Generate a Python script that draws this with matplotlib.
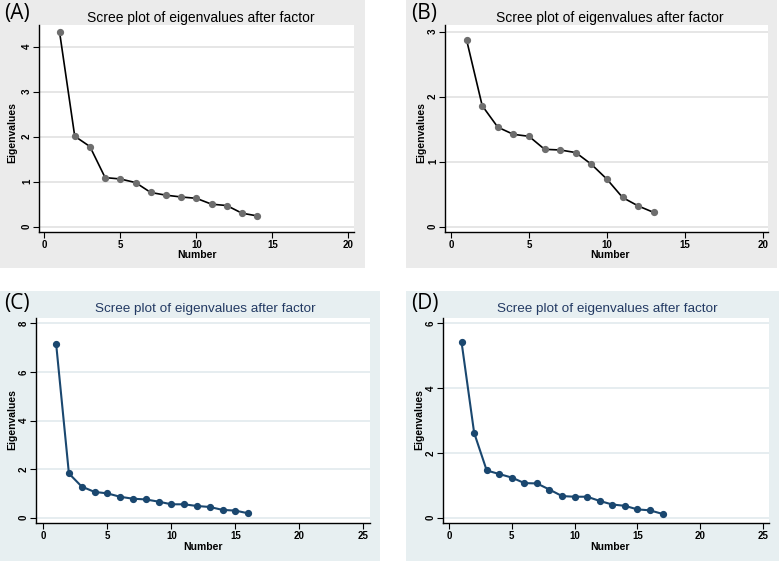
import matplotlib
matplotlib.use("Agg")
import matplotlib.pyplot as plt
from matplotlib.patches import Rectangle

# ---- data ----
eig_a = [4.33, 2.01, 1.78, 1.09, 1.06, 0.98, 0.76, 0.70, 0.66, 0.63, 0.50, 0.47, 0.30, 0.24]
eig_b = [2.87, 1.86, 1.53, 1.42, 1.39, 1.19, 1.18, 1.14, 0.96, 0.73, 0.45, 0.32, 0.22]
eig_c = [7.17, 1.82, 1.28, 1.06, 1.00, 0.86, 0.78, 0.75, 0.66, 0.55, 0.55, 0.48, 0.44, 0.32, 0.29, 0.18]
eig_d = [5.41, 2.62, 1.46, 1.35, 1.24, 1.07, 1.06, 0.87, 0.67, 0.65, 0.65, 0.52, 0.41, 0.37, 0.26, 0.23, 0.12]
panel_labels = ["(A)", "(B)", "(C)", "(D)"]
title_text = "Scree plot of eigenvalues after factor"
xlabel_text = "Number"
ylabel_text = "Eigenvalues"
xticks_ab = [0, 5, 10, 15, 20]
yticks_a = [0, 1, 2, 3, 4]
yticks_b = [0, 1, 2, 3]
xticks_cd = [0, 5, 10, 15, 20, 25]
yticks_c = [0, 2, 4, 6, 8]
yticks_d = [0, 2, 4, 6]

W, H = 779, 561
fig = plt.figure(figsize=(W / 100, H / 100), dpi=100)
fig.patch.set_facecolor("white")
plt.rcParams["font.family"] = ["Liberation Sans", "DejaVu Sans"]


def fx(px):
    return px / W


def fy(py):
    return 1 - py / H


def add_bg(x0, y0, x1, y1, color):
    fig.patches.append(Rectangle((fx(x0), fy(y1)), fx(x1) - fx(x0), fy(y0) - fy(y1),
                                 transform=fig.transFigure, facecolor=color,
                                 edgecolor="none", zorder=-10))


GRAY_BG = "#ebebeb"
BLUE_BG = "#e7eff1"
NAVY = "#1a476f"

panels = [
    dict(data=eig_a, bg=(0, 0, 365, 268), ax=(39, 25, 354, 232), xlim=(-0.35, 20.37), ylim=(-0.118, 4.48),
         xt=xticks_ab, yt=yticks_a, bgc=GRAY_BG, grid="#e2e2e2", line="black", mk="#6e6e6e",
         tc="black", title_xy=(201, 18), lab_xy=(4, 13.5), xl_xy=(197, 255), yl_xy=(12, 133), tfs=10),
    dict(data=eig_b, bg=(406, 0, 777, 268), ax=(445, 25, 768, 232), xlim=(-0.385, 20.32), ylim=(-0.08, 3.10),
         xt=xticks_ab, yt=yticks_b, bgc=GRAY_BG, grid="#e2e2e2", line="black", mk="#6e6e6e",
         tc="black", title_xy=(610, 18), lab_xy=(411, 13.5), xl_xy=(610, 255), yl_xy=(421, 133), tfs=10),
    dict(data=eig_c, bg=(0, 291, 380, 561), ax=(36, 318, 370, 523), xlim=(-0.57, 25.52), ylim=(-0.22, 8.22),
         xt=xticks_cd, yt=yticks_c, bgc=BLUE_BG, grid="#e1eaed", line=NAVY, mk=NAVY,
         tc="#233a63", title_xy=(205, 309), lab_xy=(4, 304), xl_xy=(203, 547), yl_xy=(12, 420), tfs=9.7),
    dict(data=eig_d, bg=(406, 291, 779, 561), ax=(443, 318, 769, 523), xlim=(-0.48, 25.48), ylim=(-0.16, 6.16),
         xt=xticks_cd, yt=yticks_d, bgc=BLUE_BG, grid="#e1eaed", line=NAVY, mk=NAVY,
         tc="#233a63", title_xy=(607, 309), lab_xy=(411, 304), xl_xy=(610, 547), yl_xy=(419, 420), tfs=9.7),
]

for lab, p in zip(panel_labels, panels):
    add_bg(*p["bg"], p["bgc"])
    x0, y0, x1, y1 = p["ax"]
    ax = fig.add_axes([fx(x0), fy(y1), fx(x1) - fx(x0), fy(y0) - fy(y1)])
    ax.set_zorder(1)
    ax.set_facecolor("white")
    xs = list(range(1, len(p["data"]) + 1))
    ax.plot(xs, p["data"], color=p["line"], lw=1.2 if p["line"] == "black" else 1.5, zorder=3,
            marker="o", markersize=4.2, markerfacecolor=p["mk"], markeredgecolor=p["mk"])
    ax.set_xlim(*p["xlim"])
    ax.set_ylim(*p["ylim"])
    ax.set_xticks(p["xt"])
    ax.set_yticks(p["yt"])
    ax.set_xticklabels([str(v) for v in p["xt"]], fontsize=7, fontweight="bold")
    ax.set_yticklabels([str(v) for v in p["yt"]], fontsize=7, fontweight="bold", rotation=90, va="center")
    ax.tick_params(axis="x", direction="out", length=4.5, width=0.8, pad=1.5, color="black")
    ax.tick_params(axis="y", direction="out", length=4, width=0.8, pad=1, color="black")
    for s in ["top", "right"]:
        ax.spines[s].set_visible(False)
    for s in ["left", "bottom"]:
        ax.spines[s].set_linewidth(1.0)
    ax.grid(axis="y", color=p["grid"], lw=1.2, zorder=0)
    ax.grid(axis="x", visible=False)
    ax.set_axisbelow(True)

    fig.text(fx(p["title_xy"][0]), fy(p["title_xy"][1]), title_text, ha="center", va="center",
             fontsize=p["tfs"], color=p["tc"])
    fig.text(fx(p["lab_xy"][0]), fy(p["lab_xy"][1]), lab, ha="left", va="center",
             fontsize=15, color="black", family=["Open Sans", "DejaVu Sans"])
    fig.text(fx(p["xl_xy"][0]), fy(p["xl_xy"][1]), xlabel_text, ha="center", va="center",
             fontsize=7.5, fontweight="bold", color="black")
    fig.text(fx(p["yl_xy"][0]), fy(p["yl_xy"][1]), ylabel_text, ha="center", va="center",
             fontsize=7.5, fontweight="bold", color="black", rotation=90)

fig.savefig("out.png", dpi=100, facecolor="white")
